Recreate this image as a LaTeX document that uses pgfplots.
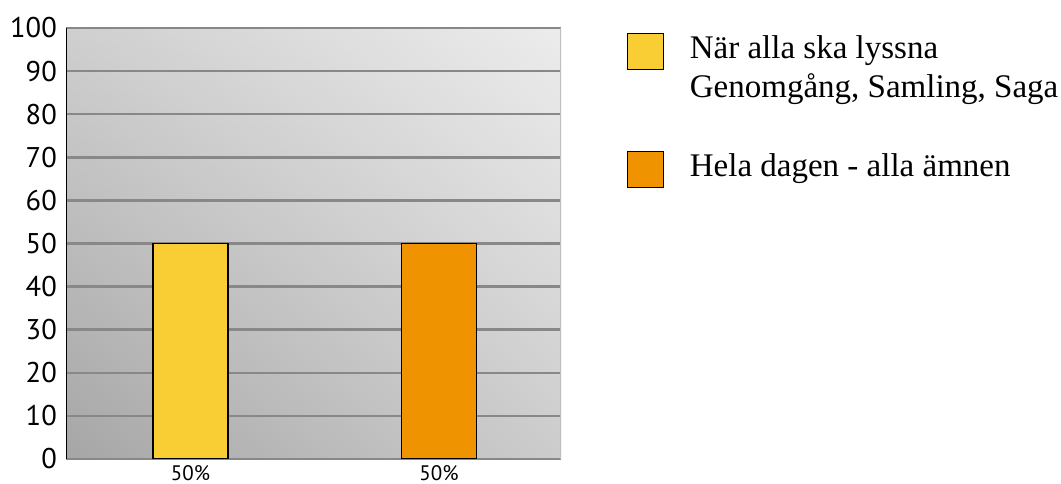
\documentclass[border=0pt]{standalone}
\usepackage{fontspec}
\setmainfont{Liberation Serif}
\newfontfamily\tickfont{PT Sans}
\usepackage{pgfplots}
\usetikzlibrary{shadings}
\pgfplotsset{compat=1.18}
\definecolor{barY}{HTML}{F9CE35}
\definecolor{barO}{HTML}{F09300}
\definecolor{gridg}{HTML}{888888}
\definecolor{bgLL}{HTML}{A6A6A6}
\definecolor{bgUR}{HTML}{ECECEC}
\definecolor{bgUL}{HTML}{CFCFCF}
\definecolor{bgLR}{HTML}{CCCCCC}
\begin{document}
\begin{tikzpicture}[x=1pt,y=1pt]
\useasboundingbox (0,0) rectangle (1061,484);
\begin{axis}[
 at={(66pt,25pt)}, anchor=south west,
 scale only axis, width=495pt, height=431pt,
 xmin=-0.501, xmax=1.491, ymin=0, ymax=100,
 ytick={0,10,...,100}, xtick={0,1}, xticklabels={50\%,50\%},
 ymajorgrids, grid style={gridg, line width=2.5pt},
 major tick length=0pt,
 axis line style={draw=none},
 /pgf/number format/assume math mode=true,
 yticklabel style={font=\fontsize{28.5}{28.5}\tickfont, inner sep=0pt, xshift=-9pt},
 xticklabel style={font=\fontsize{21}{21}\tickfont, inner sep=0pt, yshift=-6pt},
 axis background/.style={shade,
   lower left=bgLL, upper right=bgUR, upper left=bgUL, lower right=bgLR},
 ybar, bar width=75pt, bar shift=0pt,
 legend style={at={(axis description cs:1.1333,0.9884)}, anchor=north west,
   draw=none, fill=none, font=\fontsize{33}{38}\selectfont,
   row sep=0pt, column sep=25.5pt, inner sep=0pt,
   nodes={inner sep=0pt, text height=25pt, text depth=14pt, anchor=base west}},
 legend cell align=left,
 legend image code/.code={\draw[#1, draw=black, line width=1.2pt] (0pt,-11pt) rectangle (36pt,25pt);},
]
\addplot[fill=barY, draw=black, line width=1.5pt] coordinates {(0,50)};
\addlegendentry{När alla ska lyssna}
\addlegendimage{empty legend}
\addlegendentry{Genomgång, Samling, Saga}
\addlegendimage{empty legend}
\addlegendentry{}
\addplot[fill=barO, draw=black, line width=1.5pt] coordinates {(1,50)};
\addlegendentry{Hela dagen - alla ämnen}
\draw[black, line width=2.5pt] (rel axis cs:0,0) -- (rel axis cs:0,1);
\draw[black!25, line width=1.5pt] (rel axis cs:1,0) -- (rel axis cs:1,1);
\end{axis}
\end{tikzpicture}
\end{document}
